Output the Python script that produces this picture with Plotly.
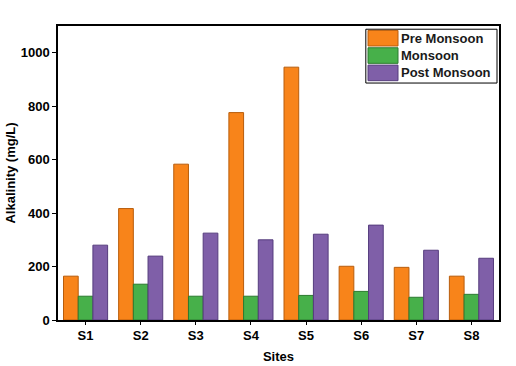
import plotly.graph_objects as go

sites = ["S1", "S2", "S3", "S4", "S5", "S6", "S7", "S8"]
pre_monsoon = [164, 417, 583, 776, 946, 201, 197, 164]
monsoon = [89, 134, 89, 89, 92, 107, 85, 96]
post_monsoon = [280, 239, 325, 300, 321, 355, 261, 231]

series_names = ["Pre Monsoon", "Monsoon", "Post Monsoon"]
fill_colors = ["#F8841A", "#47B04A", "#7F5FA8"]
edge_colors = ["#B85D0C", "#2C7A30", "#553C7D"]

font_family = "Liberation Sans, Arial, sans-serif"

fig = go.Figure()
for name, vals, fc, ec in zip(series_names, [pre_monsoon, monsoon, post_monsoon], fill_colors, edge_colors):
    fig.add_trace(go.Bar(x=sites, y=vals, name=name, marker=dict(color=fc, line=dict(color=ec, width=1)),
                         showlegend=False))

# custom legend box (paper coordinates)
lx0, lx1, ly1 = 0.698, 0.9955, 0.989
row_h = 0.059
shapes = [dict(type="rect", xref="paper", yref="paper", x0=lx0, x1=lx1, y0=ly1 - 3 * row_h - 0.006, y1=ly1,
               line=dict(color="black", width=1), fillcolor="white")]
annotations = []
for i, (name, fc, ec) in enumerate(zip(series_names, fill_colors, edge_colors)):
    yt = ly1 - 0.004 - i * row_h
    shapes.append(dict(type="rect", xref="paper", yref="paper", x0=lx0 + 0.005, x1=lx0 + 0.073,
                       y0=yt - row_h + 0.006, y1=yt, fillcolor=fc, line=dict(color=ec, width=1)))
    annotations.append(dict(xref="paper", yref="paper", x=lx0 + 0.075, y=yt - row_h / 2 + 0.003,
                            text="<b>%s</b>" % name,
                            showarrow=False, xanchor="left", yanchor="middle",
                            font=dict(family=font_family, size=13, color="#1a1a1a")))

fig.update_layout(
    width=516, height=366,
    margin=dict(l=58, r=17, t=26, b=46),
    paper_bgcolor="white", plot_bgcolor="white",
    barmode="group", bargap=0.2, bargroupgap=0,
    font=dict(family=font_family, color="black"),
    shapes=shapes, annotations=annotations,
    xaxis=dict(title=dict(text="<b>Sites</b>", font=dict(size=13), standoff=10),
               automargin=False,
               tickfont=dict(size=13), showline=True, linecolor="black", linewidth=1.5, mirror=True,
               ticks="outside", ticklen=3, tickcolor="black", showgrid=False,
               tickvals=sites, ticktext=["<b>%s</b>" % s for s in sites]),
    yaxis=dict(title=dict(text="<b>Alkalinity (mg/L)</b>", font=dict(size=13), standoff=2),
               automargin=False,
               range=[0, 1100], tickvals=[0, 200, 400, 600, 800, 1000],
               ticktext=["<b>%d</b>" % v for v in [0, 200, 400, 600, 800, 1000]],
               tickfont=dict(size=13), showline=True, linecolor="black", linewidth=1.5, mirror=True,
               ticks="outside", ticklen=4, tickcolor="black", showgrid=False, zeroline=False),
)

fig.write_html("out.html")
